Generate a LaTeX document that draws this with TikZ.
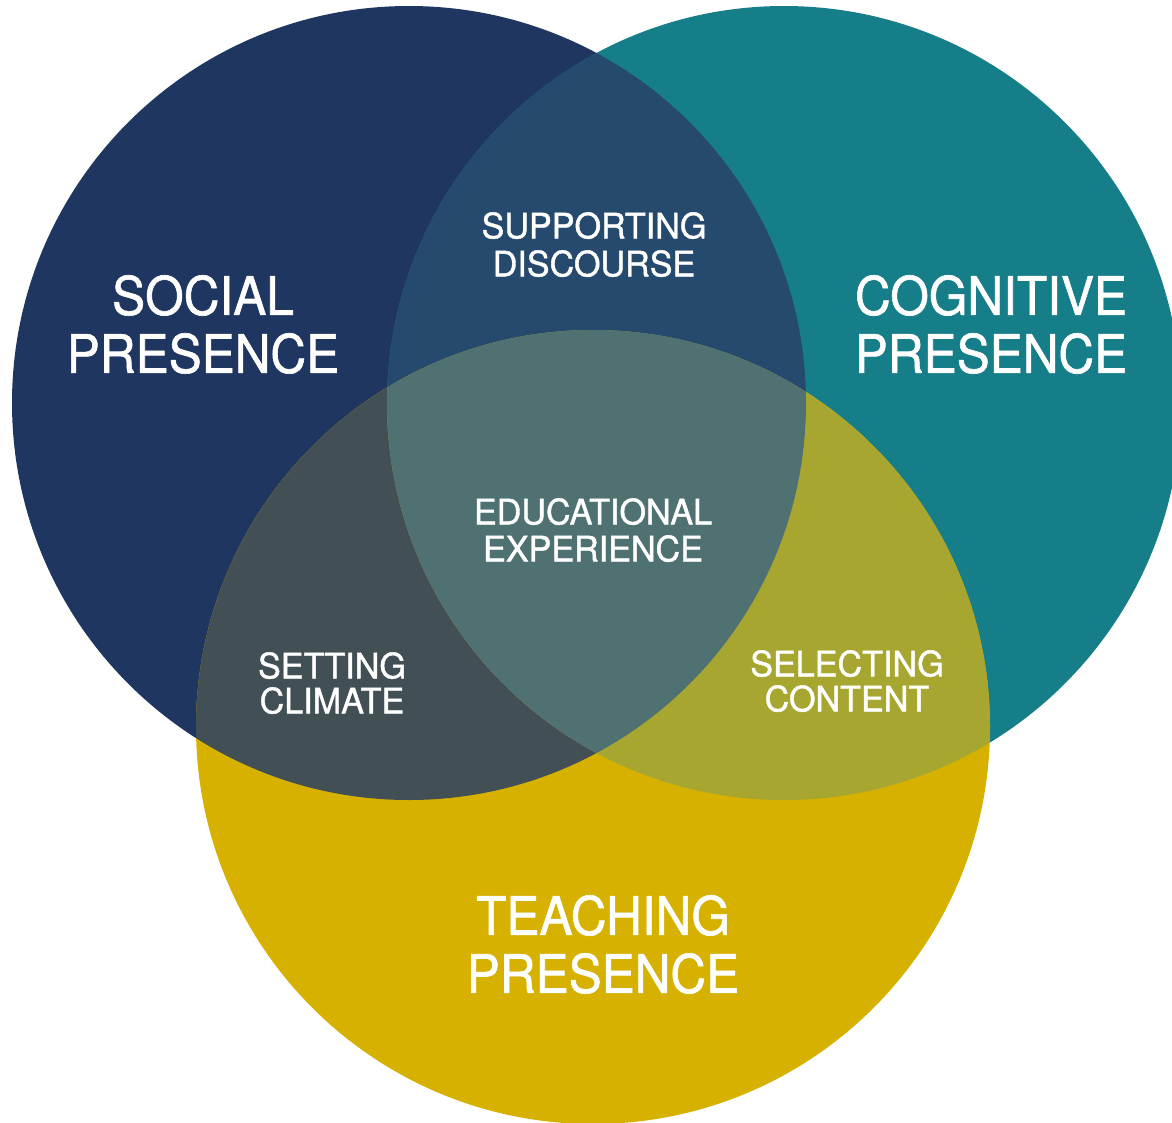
\documentclass[tikz,border=0pt]{standalone}
\usepackage{fontspec}
\setmainfont{TeX Gyre Heros}[FakeBold=1]
\newfontface\heavy{TeX Gyre Heros}[FakeBold=1.2]
\usepackage{graphicx}
\definecolor{socialc}{RGB}{30,54,96}
\definecolor{cognc}{RGB}{22,126,137}
\definecolor{teachc}{RGB}{214,177,0}
\definecolor{discc}{RGB}{38,74,110}
\definecolor{climc}{RGB}{66,79,84}
\definecolor{contc}{RGB}{167,166,48}
\definecolor{educc}{RGB}{79,113,114}
\newcommand\bigsq[1]{\scalebox{0.935}[1]{#1}}
\newcommand\smsq[1]{\scalebox{0.975}[1]{#1}}
\tikzset{
  biglabel/.style={anchor=north, inner sep=0pt, text=white, align=center, font=\heavy\fontsize{53}{58}\selectfont},
  smalllabel/.style={anchor=north, inner sep=0pt, text=white, align=center},
}
\begin{document}
\begin{tikzpicture}[x=1pt,y=-1pt]
\useasboundingbox (0,0) rectangle (1172,1122);
\clip (0,0) rectangle (1172,1122);
\coordinate (cs) at (409,403);
\coordinate (cc) at (784,403);
\coordinate (ct) at (593,727);
\def\R{397pt}
% base circles
\fill[socialc] (cs) circle[radius=\R];
\fill[cognc] (cc) circle[radius=\R];
\fill[teachc] (ct) circle[radius=\R];
% pairwise overlaps
\begin{scope}
  \clip (cs) circle[radius=\R];
  \fill[discc] (cc) circle[radius=\R];
  \fill[climc] (ct) circle[radius=\R];
\end{scope}
\begin{scope}
  \clip (cc) circle[radius=\R];
  \fill[contc] (ct) circle[radius=\R];
\end{scope}
% triple overlap
\begin{scope}
  \clip (cs) circle[radius=\R];
  \clip (cc) circle[radius=\R];
  \fill[educc] (ct) circle[radius=\R];
\end{scope}
% labels
\node[biglabel] (social) at (203,275) {\bigsq{SOCIAL}\\\bigsq{PRESENCE}};
\node[biglabel] (cognitive) at (991,275) {\bigsq{COGNITIVE}\\\bigsq{PRESENCE}};
\node[biglabel] (teaching) at (603,895) {\bigsq{TEACHING}\\\bigsq{PRESENCE}};
\node[smalllabel, font=\heavy\fontsize{35}{38}\selectfont] (discourse) at (594,212) {\smsq{SUPPORTING}\\\smsq{DISCOURSE}};
\node[smalllabel, font=\heavy\fontsize{35}{37}\selectfont] (educ) at (593,498) {\smsq{EDUCATIONAL}\\\smsq{EXPERIENCE}};
\node[smalllabel, font=\heavy\fontsize{35}{35}\selectfont] (climate) at (332,652) {\smsq{SETTING}\\\smsq{CLIMATE}};
\node[smalllabel, font=\heavy\fontsize{35}{35}\selectfont] (content) at (847,650) {\smsq{SELECTING}\\\smsq{CONTENT}};
\end{tikzpicture}
\end{document}
